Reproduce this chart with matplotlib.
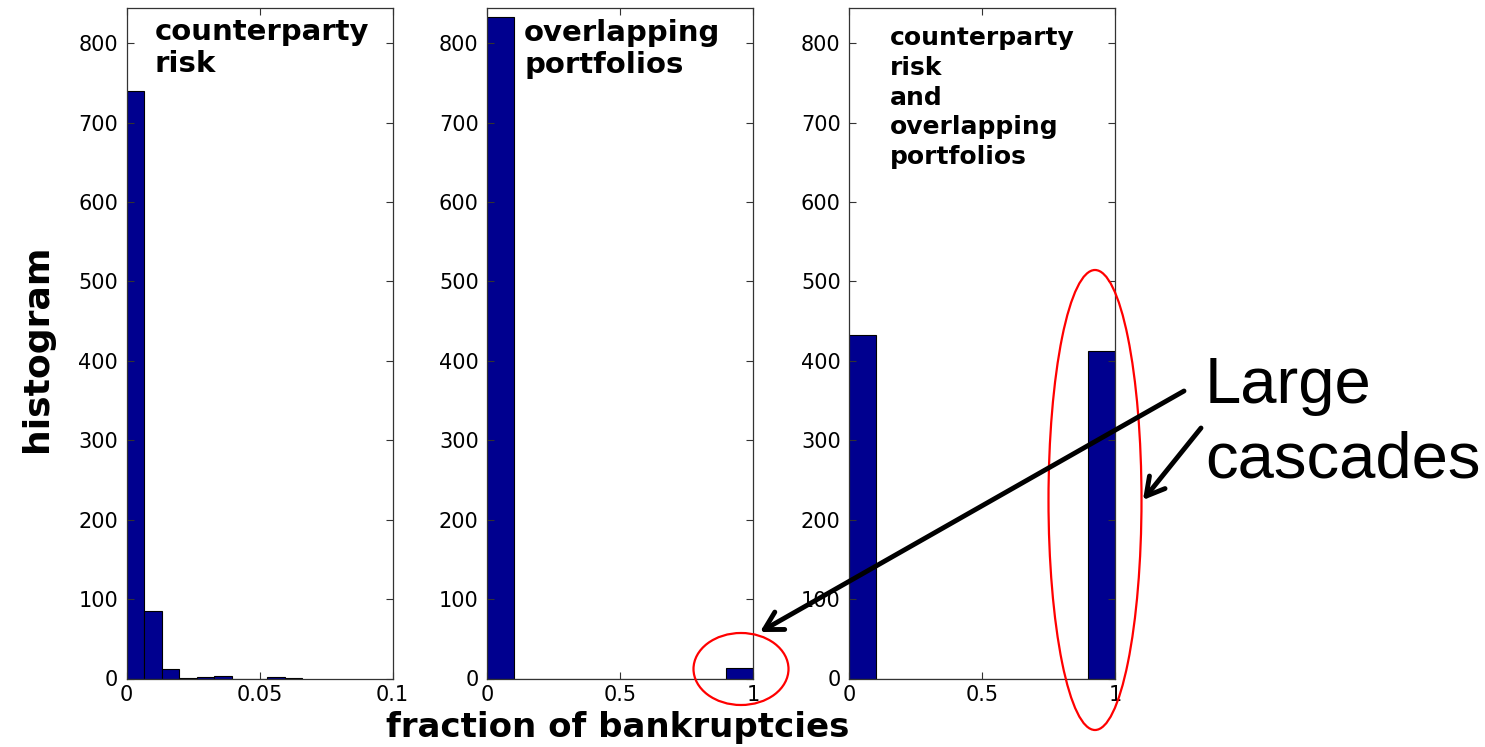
import matplotlib
matplotlib.use("Agg")
import matplotlib.pyplot as plt
import numpy as np
from matplotlib.patches import Ellipse, FancyArrowPatch

plt.rcParams['font.family'] = ['DejaVu Sans']

# Histogram counts (10 bins per panel)
cp_edges_max = 0.066
cp_counts = [740, 85, 12, 1, 2, 3, 0, 0, 2, 1]
op_counts = [833, 0, 0, 0, 0, 0, 0, 0, 0, 13]
both_counts = [433, 0, 0, 0, 0, 0, 0, 0, 0, 413]

panel_titles = ["counterparty\nrisk", "overlapping\nportfolios",
                "counterparty\nrisk\nand\noverlapping\nportfolios"]
x_limits = [(0, 0.1), (0, 1), (0, 1)]
x_ticks = [[0, 0.05, 0.1], [0, 0.5, 1], [0, 0.5, 1]]
x_ticklabels = [["0", "0.05", "0.1"], ["0", "0.5", "1"], ["0", "0.5", "1"]]
y_ticks = list(range(0, 801, 100))

W, H = 1485, 747
fig = plt.figure(figsize=(W / 100, H / 100), dpi=100)


def fx(x):
    return x / W


def fy(y):
    return 1 - y / H


bar_color = '#00008F'
panel_left_px = [126.5, 487, 849]
panel_w_px = 266
top_px, bottom_px = 7.5, 678.5

counts_all = [cp_counts, op_counts, both_counts]
bin_max = [cp_edges_max, 1.0, 1.0]
title_sizes = [21, 21, 18]
title_pos = [(0.105, 0.985), (0.14, 0.983), (0.152, 0.972)]
title_spacing = [1.2, 1.2, 1.3]

for i in range(3):
    ax = fig.add_axes([fx(panel_left_px[i]), fy(bottom_px),
                       panel_w_px / W, (bottom_px - top_px) / H])
    n = len(counts_all[i])
    edges = np.linspace(0, bin_max[i], n + 1)
    ax.bar(edges[:-1], counts_all[i], width=np.diff(edges), align='edge',
           color=bar_color, edgecolor='black', linewidth=0.8)
    ax.set_xlim(*x_limits[i])
    ax.set_ylim(0, 845)
    ax.set_xticks(x_ticks[i])
    ax.set_xticklabels(x_ticklabels[i])
    ax.set_yticks(y_ticks)
    ax.tick_params(direction='in', top=True, right=True, length=5,
                   width=0.8, color='#333333', labelsize=15)
    ax.tick_params(axis='y', pad=6)
    ax.tick_params(axis='x', pad=5)
    for s in ax.spines.values():
        s.set_color('#333333')
        s.set_linewidth(0.9)
    ax.text(title_pos[i][0], title_pos[i][1], panel_titles[i],
            transform=ax.transAxes, ha='left', va='top',
            fontsize=title_sizes[i], fontweight='bold',
            linespacing=title_spacing[i])

fig.text(fx(37), fy(348), "histogram", rotation=90, ha='center',
         va='center', fontsize=26, fontweight='bold')
fig.text(fx(618), fy(727), "fraction of bankruptcies", ha='center',
         va='center', fontsize=24.5, fontweight='bold')

# Red ellipses highlighting the large-cascade bins
fig.add_artist(Ellipse((fx(741), fy(669)), 95 / W, 72 / H,
                       transform=fig.transFigure, fill=False,
                       edgecolor='red', linewidth=1.6))
fig.add_artist(Ellipse((fx(1095), fy(500)), 93 / W, 460 / H,
                       transform=fig.transFigure, fill=False,
                       edgecolor='red', linewidth=1.6))

# Pointer arrows
for (x0, y0), (x1, y1) in [((1184, 391), (760, 632)),
                           ((1201, 428), (1143, 500))]:
    fig.add_artist(FancyArrowPatch((fx(x0), fy(y0)), (fx(x1), fy(y1)),
                                   transform=fig.transFigure,
                                   arrowstyle='->,head_length=8,head_width=4.5',
                                   mutation_scale=1.6, color='black',
                                   linewidth=3.5, shrinkA=0, shrinkB=0))

fig.text(fx(1205), fy(403), "Large", ha='left', va='baseline', fontsize=47,
         family='Liberation Sans')
fig.text(fx(1205), fy(478), "cascades", ha='left', va='baseline', fontsize=47,
         family='Liberation Sans')

fig.savefig("out.png", dpi=100)
